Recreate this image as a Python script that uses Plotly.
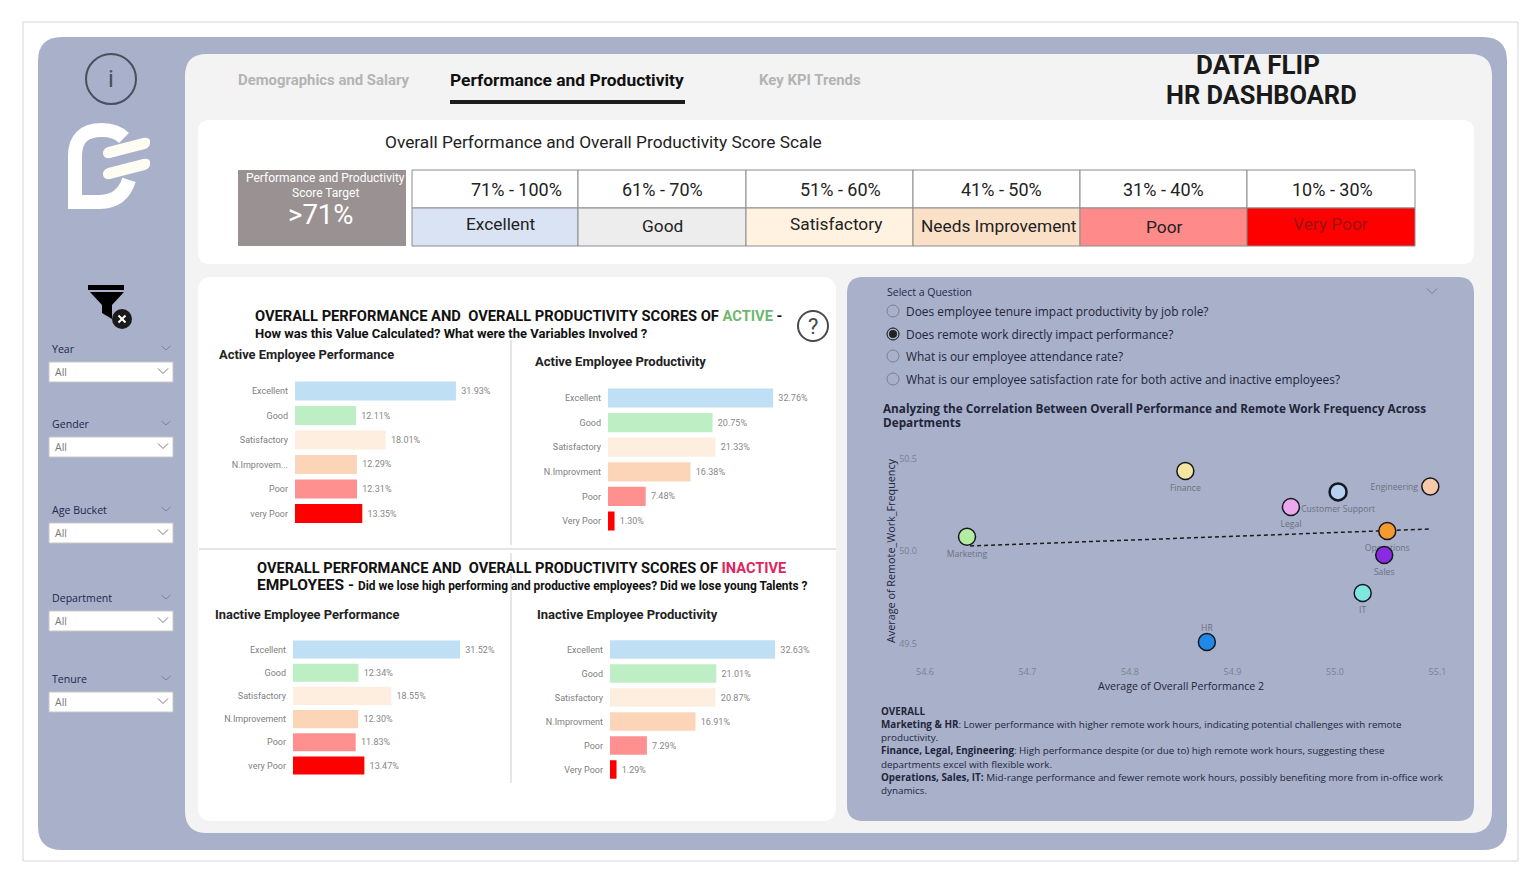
import plotly.graph_objects as go

W, H = 1538, 882

# bar chart data
active_perf_labels = ["Excellent", "Good", "Satisfactory", "N.Improvem...", "Poor", "very Poor"]
active_perf_values = [31.93, 12.11, 18.01, 12.29, 12.31, 13.35]
active_prod_labels = ["Excellent", "Good", "Satisfactory", "N.Improvment", "Poor", "Very Poor"]
active_prod_values = [32.76, 20.75, 21.33, 16.38, 7.48, 1.30]
inactive_perf_labels = ["Excellent", "Good", "Satisfactory", "N.Improvement", "Poor", "very Poor"]
inactive_perf_values = [31.52, 12.34, 18.55, 12.30, 11.83, 13.47]
inactive_prod_labels = ["Excellent", "Good", "Satisfactory", "N.Improvment", "Poor", "Very Poor"]
inactive_prod_values = [32.63, 21.01, 20.87, 16.91, 7.29, 1.29]

# scatter data
departments = ["Marketing", "Finance", "Customer Support", "Engineering", "Legal", "Operations", "Sales", "IT", "HR"]
avg_performance = [54.641, 54.854, 55.003, 55.093, 54.957, 55.051, 55.048, 55.027, 54.875]
avg_remote = [50.077, 50.432, 50.319, 50.349, 50.238, 50.108, 49.978, 49.773, 49.508]
trend_x = [54.644, 55.094]
trend_y = [50.027, 50.119]
x_ticks = [54.6, 54.7, 54.8, 54.9, 55.0, 55.1]
y_ticks = [49.5, 50.0, 50.5]

# score scale table
score_ranges = ["71% - 100%", "61% - 70%", "51% - 60%", "41% - 50%", "31% - 40%", "10% - 30%"]
score_names = ["Excellent", "Good", "Satisfactory", "Needs Improvement", "Poor", "Very Poor"]

filter_names = ["Year", "Gender", "Age Bucket", "Department", "Tenure"]

questions = ["Does employee tenure impact productivity by job role?",
             "Does remote work directly impact performance?",
             "What is our employee attendance rate?",
             "What is our employee satisfaction rate for both active and inactive employees?"]

note_lines = ["<b>OVERALL</b>",
              "<b>Marketing &amp; HR</b>: Lower performance with higher remote work hours, indicating potential challenges with remote",
              "productivity.",
              "<b>Finance, Legal, Engineering</b>: High performance despite (or due to) high remote work hours, suggesting these",
              "departments excel with flexible work.",
              "<b>Operations, Sales, IT:</b> Mid-range performance and fewer remote work hours, possibly benefiting more from in-office work",
              "dynamics."]

# styling
bar_colors = ["#bfdff5", "#bdeec4", "#fdeee0", "#fcd5b8", "#ff9090", "#ff0000"]
dept_colors = ["#b5eda0", "#f3e6a0", "#b5d0f0", "#f8c9a8", "#eba8ec", "#f59a2e", "#8a2be2", "#7ee8e0", "#2088e8"]
dept_outline = [1.5, 1.5, 2.5, 1.5, 1.5, 1.5, 1.5, 1.5, 1.5]
label_dx = [0, 0, 0, -36, 0, 0, 0, 0, 0]
label_dy = [18, 18, 18, 1.5, 18, 18, 18, 18, -13]
score_colors = ["#dae3f3", "#ededed", "#fff2e0", "#fbe0c8", "#ff8a8a", "#ff0000"]
score_text_colors = ["#222222", "#222222", "#222222", "#222222", "#222222", "#9c1010"]
PANEL = "#a8b0ca"
DIN = "Roboto"
BODY = "Open Sans"

shapes = []
annotations = []


def px(x):
    return x / W


def py(y):
    return 1 - y / H


def rect(x0, y0, x1, y1, fill, line=None, lw=1):
    shapes.append(dict(type="rect", xref="paper", yref="paper", x0=px(x0), x1=px(x1), y0=py(y0), y1=py(y1),
                       fillcolor=fill, line=dict(color=line, width=lw if line else 0), layer="below"))


def path(points, fill=None, line=None, lw=1, dash=None):
    # points are svg commands and pixel coordinates
    d = ""
    for p in points:
        if isinstance(p, str):
            d += p
        else:
            d += f"{px(p[0]):.5f},{py(p[1]):.5f} "
    shapes.append(dict(type="path", xref="paper", yref="paper", path=d, fillcolor=fill if fill else "rgba(0,0,0,0)",
                       line=dict(color=line if line else "rgba(0,0,0,0)", width=lw if line else 0, dash=dash),
                       layer="below"))


def rrect(x0, y0, x1, y1, r, fill):
    path(["M", (x0 + r, y0), "L", (x1 - r, y0), "Q", (x1, y0), (x1, y0 + r), "L", (x1, y1 - r),
          "Q", (x1, y1), (x1 - r, y1), "L", (x0 + r, y1), "Q", (x0, y1), (x0, y1 - r), "L", (x0, y0 + r),
          "Q", (x0, y0), (x0 + r, y0), "Z"], fill=fill)


def circle(cx, cy, r, fill=None, line=None, lw=1):
    shapes.append(dict(type="circle", xref="paper", yref="paper", x0=px(cx - r), x1=px(cx + r), y0=py(cy - r), y1=py(cy + r),
                       fillcolor=fill if fill else "rgba(0,0,0,0)",
                       line=dict(color=line if line else "rgba(0,0,0,0)", width=lw if line else 0), layer="below"))


def seg(x0, y0, x1, y1, color, lw=1):
    shapes.append(dict(type="line", xref="paper", yref="paper", x0=px(x0), x1=px(x1), y0=py(y0), y1=py(y1),
                       line=dict(color=color, width=lw), layer="below"))


def chevron(cx, cy, w, h, color):
    path(["M", (cx - w / 2, cy - h / 2), "L", (cx, cy + h / 2), "L", (cx + w / 2, cy - h / 2)], line=color, lw=1)


def text(x, y, s, size, color="#222222", font=DIN, anchor="left", angle=0):
    # annotations sit about a pixel right of x when left anchored
    if anchor == "left":
        x = x - 1
    annotations.append(dict(xref="paper", yref="paper", x=px(x), y=py(y), text=s, showarrow=False,
                            xanchor=anchor, yanchor="middle", textangle=angle, align=anchor,
                            font=dict(size=size, color=color, family=font), borderpad=0))


# backgrounds
rect(23, 22, 1518, 861, "#ffffff", "#d6d6d6", 1)
rrect(38, 37, 1507, 850, 24, PANEL)
rrect(185, 54, 1492, 833, 22, "#f3f3f3")
rrect(198, 120, 1474, 264, 12, "#ffffff")
rrect(198, 277, 836, 821, 14, "#ffffff")
rrect(847, 277, 1474, 821, 16, PANEL)

# left rail icons
circle(111, 79, 25, line="#4a4f60", lw=2)
text(111, 79, "i", 24, "#4a4f60", anchor="center")
path(["M", (75, 205), "L", (75, 156), "Q", (75, 130), (102, 130), "Q", (116, 130), (124, 138)], line="#ffffff", lw=14)
path(["M", (68, 202), "L", (100, 202), "Q", (122, 202), (129, 180)], line="#ffffff", lw=14)
path(["M", (68, 196), "L", (82, 196), "L", (82, 209), "L", (68, 209), "Z"], fill="#ffffff")
for y_off in [0, 21]:
    path(["M", (108, 147 + y_off), "L", (143, 138 + y_off), "Q", (151, 137 + y_off), (150, 143 + y_off),
          "Q", (150, 147 + y_off), (145, 149 + y_off), "L", (110, 158 + y_off), "Q", (103, 159 + y_off), (103, 153 + y_off),
          "Q", (103, 149 + y_off), (108, 147 + y_off), "Z"], fill="#fffdf3")
path(["M", (88, 285), "L", (124, 285), "L", (124, 290), "L", (88, 290), "Z"], fill="#000000")
path(["M", (90, 292), "L", (124, 292), "L", (112, 305), "L", (112, 319), "L", (102, 313), "L", (102, 305), "Z"], fill="#000000")
circle(122, 319, 10, fill="#1a1a1a")
seg(118.5, 315.5, 125.5, 322.5, "#ffffff", 2)
seg(125.5, 315.5, 118.5, 322.5, "#ffffff", 2)

# slicers
filter_label_y = [349, 424, 510, 598, 679]
for name, ly in zip(filter_names, filter_label_y):
    text(52, ly, name, 10.6, "#22284a", BODY)
    chevron(166, ly - 1, 9, 4, "#7b8299")
    rect(49, ly + 13, 173, ly + 33, "#ffffff", "#c8c8c8", 1)
    text(55, ly + 23, "All", 10.5, "#777777", BODY)
    chevron(163, ly + 22, 10, 5, "#777777")

# tabs and dashboard title
text(323.5, 80, "<b>Demographics and Salary</b>", 14.9, "#b4b4b4", anchor="center")
text(567, 80, "<b>Performance and Productivity</b>", 17.4, "#111111", anchor="center")
seg(450, 102, 685, 102, "#1c1c1c", 4)
text(809.5, 80, "<b>Key KPI Trends</b>", 14.9, "#b4b4b4", anchor="center")
text(1258, 65, "<b>DATA FLIP</b>", 26, "#1a1a1a", anchor="center")
text(1261, 95, "<b>HR DASHBOARD</b>", 25.4, "#1a1a1a", anchor="center")

# score scale card
text(385, 142, "Overall Performance and Overall Productivity Score Scale", 17.3, "#222222")
rect(238, 170, 406, 246, "#9a9292")
text(325, 178, "Performance and Productivity", 12, "#ffffff", anchor="center")
text(325, 193, "Score Target", 12, "#ffffff", anchor="center")
text(320, 215, "&gt;71%", 27.5, "#ffffff", anchor="center")
score_edges = [412, 578, 746, 913, 1080, 1247, 1415]
range_x = [516, 662.5, 840.5, 1001.5, 1163.5, 1332.5]
name_x = [501, 662, 836, 998.5, 1164, 1330]
name_y = [224, 226, 224, 226, 227, 224]
for i in range(6):
    x0, x1 = score_edges[i], score_edges[i + 1]
    rect(x0, 170, x1, 208, "#ffffff", "#8c8c8c", 1)
    rect(x0, 208, x1, 246, score_colors[i], "#8c8c8c", 1)
    text(range_x[i], 190, score_ranges[i], 18, "#222222", anchor="center")
    text(name_x[i], name_y[i], score_names[i], 17.3, score_text_colors[i], anchor="center")

# left card headings
text(255, 316, "<b>OVERALL PERFORMANCE AND  OVERALL PRODUCTIVITY SCORES OF <span style='color:#6fb76f'>ACTIVE</span> -</b>", 14.7, "#111111")
text(255, 333, "<b>How was this Value Calculated? What were the Variables Involved ?</b>", 13, "#111111")
circle(813, 326, 15, line="#4a4a4a", lw=2)
text(813, 326, "?", 22, "#4a4a4a", anchor="center")
text(219, 354, "<b>Active Employee Performance</b>", 12.9, "#222222")
text(535, 361, "<b>Active Employee Productivity</b>", 13, "#222222")
seg(199, 549, 836, 549, "#dddddd", 1.5)
seg(511, 340, 511, 545, "#cccccc", 1)
seg(511, 553, 511, 783, "#cccccc", 1)
text(257, 568, "<b>OVERALL PERFORMANCE AND  OVERALL PRODUCTIVITY SCORES OF <span style='color:#e0245e'>INACTIVE</span></b>", 14.6, "#111111")
text(257, 585, "<b>EMPLOYEES - </b><span style='font-size:11.9px'><b>Did we lose high performing and productive employees? Did we lose young Talents ?</b></span>", 15.5, "#111111")
text(215, 614, "<b>Inactive Employee Performance</b>", 12.9, "#222222")
text(537, 614, "<b>Inactive Employee Productivity</b>", 13, "#222222")

# question panel
text(887, 292, "Select a Question", 10.5, "#22284a", BODY)
chevron(1432, 291, 10, 5, "#7b8299")
question_y = [311, 334, 356, 379]
for i, (q, qy) in enumerate(zip(questions, question_y)):
    circle(893, qy, 6, line="#7b7f90", lw=1)
    if i == 1:
        circle(893, qy, 6, line="#222222", lw=1)
        circle(893, qy, 4, fill="#222222")
    text(906, qy, q, 11.9, "#22263a", BODY)
text(883, 408, "<b>Analyzing the Correlation Between Overall Performance and Remote Work Frequency Across</b>", 11.75, "#22263a", BODY)
text(883, 422, "<b>Departments</b>", 11.75, "#22263a", BODY)
text(890, 551, "Average of Remote_Work_Frequency", 10.8, "#22263a", BODY, anchor="center", angle=-90)
text(1181, 686, "Average of Overall Performance 2", 10.6, "#22263a", BODY, anchor="center")
note_y = [711, 724, 737, 750, 764, 777, 790]
for line, ny in zip(note_lines, note_y):
    text(881, ny, line, 9.86, "#22263a", BODY)

fig = go.Figure()

# x0 = pixel of zero, scale = pixels per percent, rows = first and last row centre
bar_panels = [
    (active_perf_labels, active_perf_values, 295, 5.04, 391, 513.5),
    (active_prod_labels, active_prod_values, 608, 5.04, 398, 521),
    (inactive_perf_labels, inactive_perf_values, 293, 5.30, 649.5, 765.5),
    (inactive_prod_labels, inactive_prod_values, 610, 5.06, 649.5, 769.5),
]
layout_axes = {}
for i, (labels, values, x0, scale, y_first, y_last) in enumerate(bar_panels):
    n = i + 1
    suffix = "" if n == 1 else str(n)
    fig.add_trace(go.Bar(
        y=labels, x=values, orientation="h", xaxis=f"x{suffix}", yaxis=f"y{suffix}",
        marker=dict(color=bar_colors, line=dict(width=0)),
        text=[f"\u00a0{v:.2f}%" for v in values], textposition="outside", cliponaxis=False,
        textfont=dict(size=9, color="#888888", family=DIN), showlegend=False,
    ))
    step = (y_last - y_first) / 5
    layout_axes[f"xaxis{suffix}"] = dict(domain=[px(x0), px(x0 + 40 * scale)], range=[0, 40], visible=False,
                                         anchor=f"y{suffix}", fixedrange=True, automargin=False)
    layout_axes[f"yaxis{suffix}"] = dict(domain=[py(y_last + step / 2), py(y_first - step / 2)], autorange="reversed",
                                         anchor=f"x{suffix}", showgrid=False, showline=False, zeroline=False,
                                         ticks="", ticklabelstandoff=6, type="category", automargin=False,
                                         tickfont=dict(size=9, color="#808080", family=DIN), fixedrange=True)

# scatter: axis scale is 1025 px per x unit and 185 px per y unit
X_SCALE, Y_SCALE = 1025, 185
fig.add_trace(go.Scatter(x=trend_x, y=trend_y, mode="lines", xaxis="x5", yaxis="y5", showlegend=False,
                         line=dict(color="#1c1c1c", width=1.5, dash="4px,3px")))
# labels go in their own trace underneath so the markers cover them
fig.add_trace(go.Scatter(
    x=[v + dx / X_SCALE for v, dx in zip(avg_performance, label_dx)],
    y=[v - dy / Y_SCALE for v, dy in zip(avg_remote, label_dy)],
    mode="text", text=departments, textposition="middle center", xaxis="x5", yaxis="y5",
    showlegend=False, cliponaxis=False, textfont=dict(size=8.6, color="#6b7080", family=BODY),
))
fig.add_trace(go.Scatter(
    x=avg_performance, y=avg_remote, mode="markers", xaxis="x5", yaxis="y5", showlegend=False, cliponaxis=False,
    marker=dict(size=17, color=dept_colors, line=dict(color="#15171f", width=dept_outline)),
))
sx0, sx1, sy0, sy1 = 918, 1446, 450, 660
layout_axes["xaxis5"] = dict(
    domain=[px(sx0), px(sx1)], range=[54.6 + (sx0 - 925) / X_SCALE, 54.6 + (sx1 - 925) / X_SCALE], anchor="y5",
    tickvals=x_ticks, ticktext=[f"{v:.1f}" for v in x_ticks],
    showgrid=False, zeroline=False, showline=False, ticks="", ticklabelstandoff=5, automargin=False,
    tickfont=dict(size=9, color="#7b8094", family=BODY), fixedrange=True)
layout_axes["yaxis5"] = dict(
    domain=[py(sy1), py(sy0)], range=[50.0 - (sy1 - 551) / Y_SCALE, 50.0 + (551 - sy0) / Y_SCALE], anchor="x5",
    tickvals=y_ticks, ticktext=[f"{v:.1f}" for v in y_ticks], automargin=False,
    showgrid=False, zeroline=False, showline=False, ticks="",
    tickfont=dict(size=9, color="#7b8094", family=BODY), fixedrange=True)

fig.update_layout(
    width=W, height=H, margin=dict(l=0, r=0, t=0, b=0, pad=0),
    paper_bgcolor="#ffffff", plot_bgcolor="rgba(0,0,0,0)",
    bargap=0.22, showlegend=False, shapes=shapes, annotations=annotations,
    font=dict(family=DIN),
    **layout_axes,
)

fig.write_html("out.html", config=dict(displayModeBar=False),
               post_script="document.body.style.margin='0';document.body.style.overflow='hidden';")
